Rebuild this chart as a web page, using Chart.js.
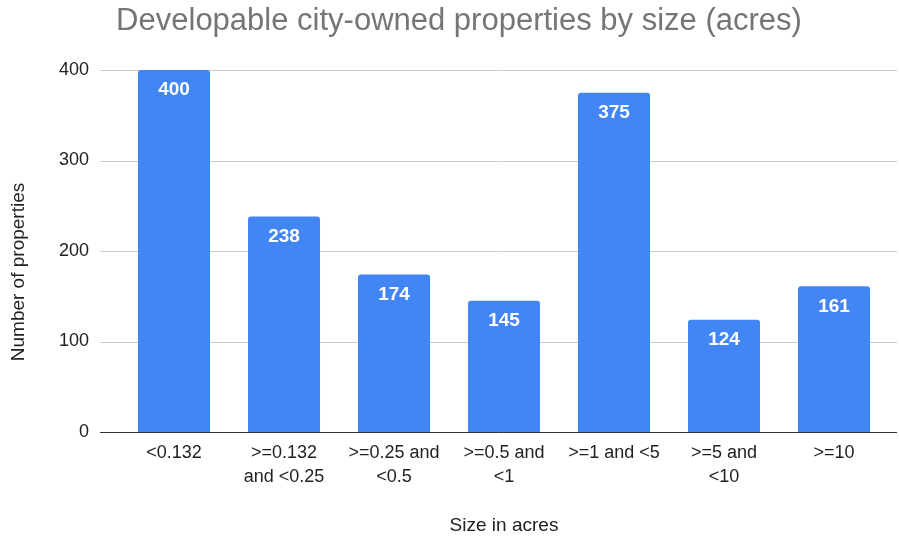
<!DOCTYPE html>
<html>
<head>
<meta charset="utf-8">
<script src="https://cdn.jsdelivr.net/npm/chart.js@4"></script>
<style>
  html, body { margin: 0; padding: 0; background: #fff; }
  #wrap { width: 899px; height: 541px; }
</style>
</head>
<body>
<div id="wrap"><canvas id="myChart" width="899" height="541"></canvas></div>
<script>
// Chart data
const categories = [
    '<0.132',
    ['>=0.132', 'and <0.25'],
    ['>=0.25 and', '<0.5'],
    ['>=0.5 and', '<1'],
    '>=1 and <5',
    ['>=5 and', '<10'],
    '>=10'
];
const propertyCounts = [400, 238, 174, 145, 375, 124, 161];
const yTicks = [0, 100, 200, 300, 400];
const chartTitle = 'Developable city-owned properties by size (acres)';
const yTitle = 'Number of properties';

const FONT = "'Liberation Sans', Arial, sans-serif";

// Grid lines wider than the plot area, like the original
const gridPlugin = {
    id: 'wideGrid',
    beforeDatasetsDraw(chart) {
        const ctx = chart.ctx;
        const y = chart.scales.y;
        ctx.save();
        yTicks.forEach(v => {
            const py = Math.round(y.getPixelForValue(v)) + 0.5;
            ctx.strokeStyle = v === 0 ? '#333333' : '#cccccc';
            ctx.lineWidth = 1;
            ctx.beginPath();
            ctx.moveTo(100, py);
            ctx.lineTo(897, py);
            ctx.stroke();
        });
        ctx.restore();
    }
};

// Titles centred on the whole canvas
const titlePlugin = {
    id: 'pageTitles',
    afterDraw(chart) {
        const ctx = chart.ctx;
        ctx.save();
        ctx.textAlign = 'center';
        ctx.textBaseline = 'middle';
        ctx.fillStyle = '#757575';
        ctx.font = '31px ' + FONT;
        ctx.fillText(chartTitle, 459, 21);

        ctx.fillStyle = '#222222';
        ctx.font = '19px ' + FONT;
        ctx.translate(19, 272);
        ctx.rotate(-Math.PI / 2);
        ctx.fillText(yTitle, 0, 0);
        ctx.restore();
    }
};

// White value labels inside the top of each bar
const labelPlugin = {
    id: 'barLabels',
    afterDatasetsDraw(chart) {
        const ctx = chart.ctx;
        const meta = chart.getDatasetMeta(0);
        ctx.save();
        ctx.fillStyle = '#ffffff';
        ctx.font = 'bold 19px ' + FONT;
        ctx.textAlign = 'center';
        ctx.textBaseline = 'middle';
        meta.data.forEach((bar, i) => {
            ctx.fillText(propertyCounts[i], bar.x, bar.y + 20);
        });
        ctx.restore();
    }
};

const ctx = document.getElementById('myChart').getContext('2d');
const myChart = new Chart(ctx, {
    type: 'bar',
    data: {
        labels: categories,
        datasets: [{
            data: propertyCounts,
            backgroundColor: '#4285f4',
            borderRadius: 3,
            borderSkipped: 'bottom',
            barPercentage: 0.655,
            categoryPercentage: 1
        }]
    },
    options: {
        responsive: false,
        animation: false,
        layout: { padding: { left: 0, right: 10, top: 70, bottom: 0 } },
        plugins: {
            legend: { display: false },
            tooltip: { enabled: false },
            title: { display: false }
        },
        scales: {
            x: {
                grid: { display: false, drawTicks: false },
                border: { display: false },
                ticks: {
                    color: '#222222',
                    font: { family: FONT, size: 18, lineHeight: 1.28 },
                    padding: 10,
                    maxRotation: 0,
                    autoSkip: false
                },
                title: {
                    display: true,
                    text: 'Size in acres',
                    color: '#222222',
                    font: { family: FONT, size: 19 },
                    padding: { top: 0, bottom: 4 }
                },
                afterFit(scale) { scale.height = 109; }
            },
            y: {
                min: 0,
                max: 400,
                afterBuildTicks(scale) { scale.ticks = yTicks.map(v => ({ value: v })); },
                grid: { display: false, drawTicks: false },
                border: { display: false },
                ticks: {
                    color: '#222222',
                    font: { family: FONT, size: 18 },
                    padding: 30
                },
                afterFit(scale) { scale.width = 119; }
            }
        }
    },
    plugins: [gridPlugin, labelPlugin, titlePlugin]
});
</script>
</body>
</html>
